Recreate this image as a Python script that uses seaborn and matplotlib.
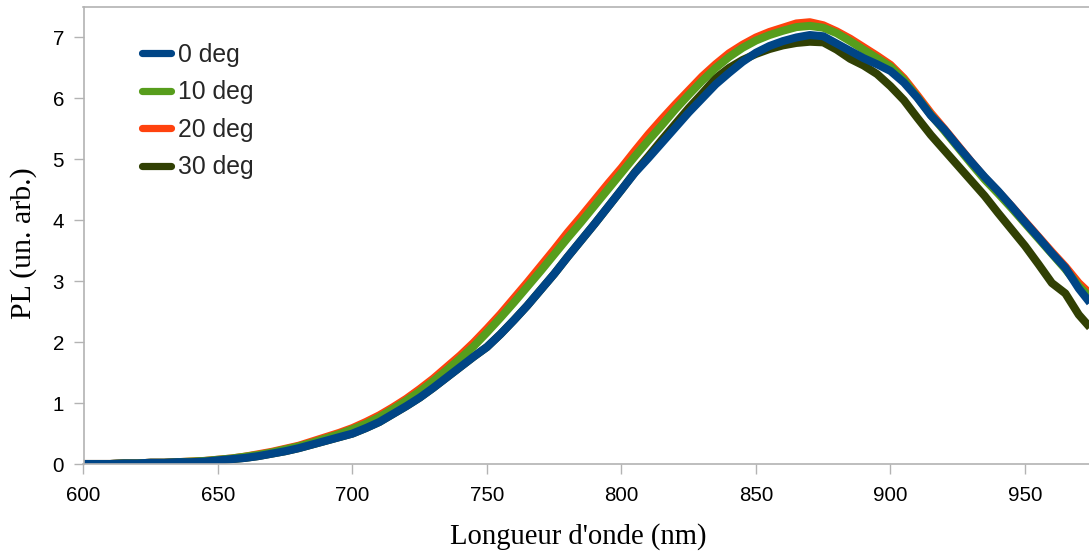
import numpy as np
import pandas as pd
import matplotlib
matplotlib.use("Agg")
import matplotlib.pyplot as plt
import seaborn as sns
from matplotlib.lines import Line2D

wavelength = list(range(600, 980, 5))

pl_0deg = [0.00, 0.00, 0.00, 0.01, 0.01, 0.02, 0.02, 0.03, 0.03, 0.04,
           0.06, 0.08, 0.10, 0.13, 0.17, 0.21, 0.26, 0.32, 0.38, 0.44,
           0.50, 0.59, 0.69, 0.82, 0.95, 1.09, 1.25, 1.42, 1.59, 1.76,
           1.92, 2.13, 2.36, 2.60, 2.86, 3.12, 3.40, 3.67, 3.94, 4.22,
           4.50, 4.78, 5.02, 5.27, 5.52, 5.77, 6.00, 6.23, 6.42, 6.60,
           6.75, 6.86, 6.94, 7.00, 7.04, 7.02, 6.90, 6.78, 6.66, 6.56,
           6.45, 6.26, 6.01, 5.72, 5.49, 5.22, 4.96, 4.71, 4.48, 4.23,
           3.97, 3.72, 3.46, 3.22, 2.88, 2.60]

pl_10deg = [0.00, 0.00, 0.00, 0.01, 0.01, 0.02, 0.02, 0.03, 0.04, 0.05,
            0.07, 0.09, 0.12, 0.15, 0.19, 0.24, 0.29, 0.35, 0.42, 0.49,
            0.57, 0.66, 0.77, 0.90, 1.04, 1.19, 1.36, 1.54, 1.73, 1.93,
            2.16, 2.40, 2.65, 2.91, 3.17, 3.44, 3.71, 3.97, 4.24, 4.51,
            4.78, 5.05, 5.31, 5.56, 5.82, 6.06, 6.29, 6.50, 6.68, 6.83,
            6.95, 7.04, 7.11, 7.17, 7.19, 7.16, 7.07, 6.94, 6.80, 6.66,
            6.52, 6.30, 6.02, 5.73, 5.47, 5.20, 4.93, 4.67, 4.44, 4.20,
            3.95, 3.70, 3.45, 3.20, 2.92, 2.70]

pl_20deg = [0.00, 0.00, 0.00, 0.01, 0.01, 0.02, 0.02, 0.03, 0.04, 0.05,
            0.07, 0.09, 0.12, 0.16, 0.20, 0.25, 0.30, 0.37, 0.44, 0.51,
            0.59, 0.69, 0.80, 0.93, 1.07, 1.23, 1.40, 1.59, 1.78, 1.99,
            2.22, 2.46, 2.72, 2.98, 3.25, 3.52, 3.80, 4.06, 4.33, 4.60,
            4.86, 5.14, 5.41, 5.66, 5.90, 6.13, 6.36, 6.56, 6.74, 6.88,
            7.00, 7.09, 7.16, 7.23, 7.25, 7.20, 7.10, 6.98, 6.84, 6.70,
            6.55, 6.33, 6.05, 5.76, 5.50, 5.23, 4.96, 4.70, 4.47, 4.23,
            3.98, 3.73, 3.48, 3.24, 2.97, 2.76]

pl_30deg = [0.00, 0.00, 0.00, 0.01, 0.01, 0.02, 0.02, 0.03, 0.03, 0.04,
            0.06, 0.08, 0.10, 0.13, 0.17, 0.21, 0.26, 0.32, 0.38, 0.44,
            0.50, 0.59, 0.69, 0.82, 0.95, 1.09, 1.25, 1.42, 1.59, 1.76,
            1.92, 2.13, 2.36, 2.60, 2.86, 3.12, 3.40, 3.67, 3.94, 4.22,
            4.50, 4.79, 5.05, 5.32, 5.58, 5.84, 6.08, 6.33, 6.50, 6.63,
            6.73, 6.81, 6.87, 6.91, 6.93, 6.92, 6.80, 6.65, 6.54, 6.40,
            6.20, 5.97, 5.68, 5.40, 5.15, 4.90, 4.65, 4.40, 4.12, 3.85,
            3.58, 3.28, 2.97, 2.80, 2.45, 2.20]

series_labels = ["0 deg", "10 deg", "20 deg", "30 deg"]
series_colors = ["#004586", "#579d1c", "#ff420e", "#314004"]
x_ticks = [600, 650, 700, 750, 800, 850, 900, 950]
y_ticks = [0, 1, 2, 3, 4, 5, 6, 7]

sns.set_theme(style="white")
plt.rcParams["font.family"] = ["Liberation Sans", "DejaVu Sans"]

frames = []
for lab, vals in zip(series_labels, [pl_0deg, pl_10deg, pl_20deg, pl_30deg]):
    frames.append(pd.DataFrame({"wl": wavelength, "pl": vals, "serie": lab}))
df = pd.concat(frames, ignore_index=True)

fig = plt.figure(figsize=(10.89, 5.54), dpi=100)
ax = fig.add_axes([83.5 / 1089, 90 / 554, 1 - 83.5 / 1089, (464 - 7) / 554])

for lab, col in reversed(list(zip(series_labels, series_colors))):
    sub = df[df["serie"] == lab]
    sns.lineplot(data=sub, x="wl", y="pl", color=col, linewidth=5.8, ax=ax,
                 solid_capstyle="butt", legend=False)

ax.set_xlim(600, 973.8)
ax.set_ylim(0, 7.5)
ax.set_xticks(x_ticks)
ax.set_yticks(y_ticks)
ax.set_xticklabels([str(v) for v in x_ticks])
ax.set_yticklabels([str(v) for v in y_ticks])

gray = "#b3b3b3"
for side in ["left", "bottom", "top"]:
    ax.spines[side].set_color(gray)
    ax.spines[side].set_linewidth(1.2)
ax.spines["right"].set_visible(False)
ax.tick_params(axis="both", direction="out", length=7.5, width=1.0,
               color=gray, labelsize=14.8, labelcolor="black")
ax.tick_params(axis="x", pad=8, bottom=True)
ax.tick_params(axis="y", pad=6.5, left=True)

ax.set_xlabel("Longueur d'onde (nm)", family=["Liberation Serif", "DejaVu Serif"],
              fontsize=20.6, color="black")
ax.set_ylabel("PL (un. arb.)", family=["Liberation Serif", "DejaVu Serif"],
              fontsize=21.5, color="black")
ax.xaxis.set_label_coords(0.492, -0.129)
ax.yaxis.set_label_coords(-0.046, 0.4836)

leg_handles = [Line2D([0], [0], color=c, linewidth=5.2) for c in series_colors]
ax.legend(leg_handles, series_labels, loc="upper left",
          bbox_to_anchor=(0.058, 0.922), frameon=False, fontsize=17.8,
          handlelength=1.2, handletextpad=0.25, labelspacing=0.55,
          borderpad=0, borderaxespad=0)

fig.savefig("out.png", dpi=100)
